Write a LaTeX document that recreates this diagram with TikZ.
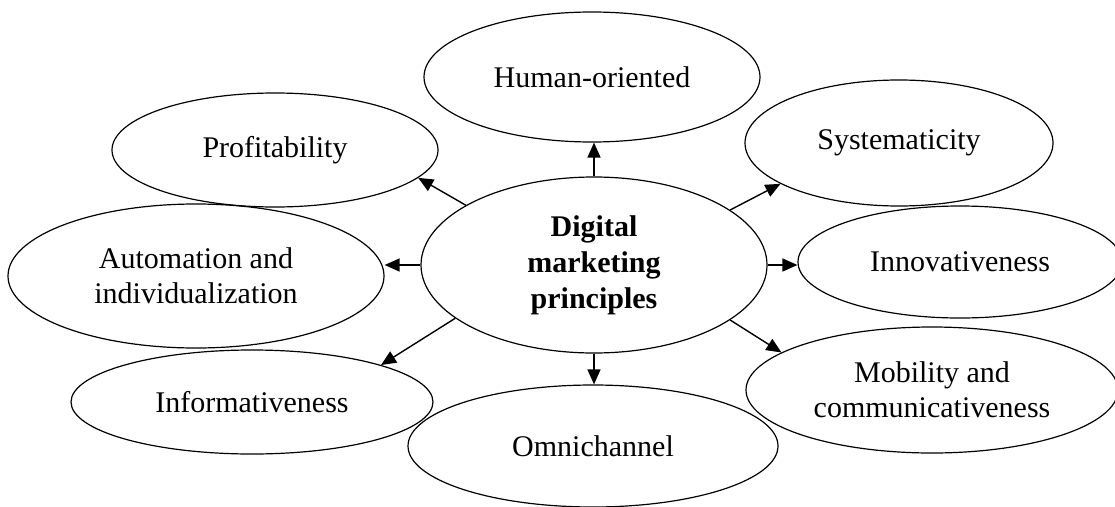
\documentclass[tikz,border=0pt]{standalone}
\usepackage{fontspec}
\setmainfont{Liberation Serif}
\usetikzlibrary{shapes.geometric,arrows.meta}

\tikzset{
    oval/.style={draw, ellipse, line width=1.2pt, inner sep=0pt, align=center,
        font=\fontsize{30}{35}\selectfont},
    link/.style={-{Triangle[length=15pt,width=13pt]}, line width=1.4pt}
}

\begin{document}
\begin{tikzpicture}[x=1pt, y=-1pt]
    % Page frame
    \useasboundingbox (0,0) rectangle (1115,506);
    % Central principle
    \node (dmp) [oval, minimum width=346pt, minimum height=176pt,
        font=\fontsize{30}{36}\selectfont\bfseries] at (594,265)
        {Digital\\marketing\\principles};
    % Surrounding principles
    \node (hum) [oval, minimum width=336pt, minimum height=130pt] at (592,77) {Human-oriented};
    \node (prof) [oval, minimum width=326pt, minimum height=114pt] at (275,150) {Profitability};
    \node (sys) [oval, minimum width=308pt, minimum height=126pt] at (899,143) {Systematicity};
    \node (auto) [oval, minimum width=376pt, minimum height=144pt] at (196,276)
        {Automation and\\individualization};
    \node (inno) [oval, minimum width=324pt, minimum height=112pt] at (960,262) {Innovativeness};
    \node (info) [oval, minimum width=362pt, minimum height=104pt] at (252,402) {Informativeness};
    \node (omni) [oval, minimum width=370pt, minimum height=122pt] at (593,446) {Omnichannel};
    \node (mob) [oval, minimum width=372pt, minimum height=126pt] at (932,390)
        {Mobility and\\communicativeness};
    % Draw arrows
    \draw[link] (dmp.north) -- (dmp.north |- hum.south);
    \draw[link] (dmp.155) -- (prof.-11);
    \draw[link] (dmp.22) -- (sys.199);
    \draw[link] (dmp.west) -- (dmp.west -| auto.east);
    \draw[link] (dmp.east) -- (dmp.east -| inno.west);
    \draw[link] (dmp.-159) -- (info.16);
    \draw[link] (dmp.south) -- (dmp.south |- omni.north);
    \draw[link] (dmp.-22) -- (mob.166);
\end{tikzpicture}
\end{document}
